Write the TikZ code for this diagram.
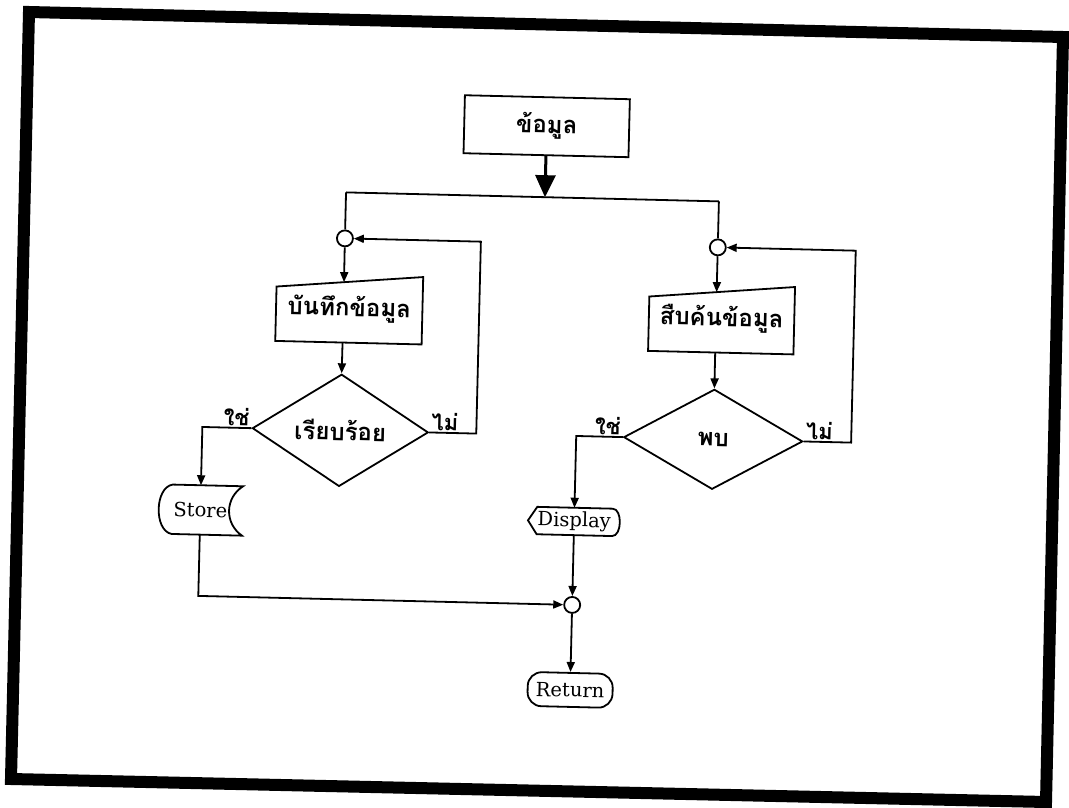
\documentclass[tikz,border=0pt]{standalone}
\usepackage{fontspec}
\newfontfamily\thaifont[Script=Thai]{Loma}
\newfontfamily\engfont{DejaVu Serif}
\usetikzlibrary{arrows.meta,shapes.geometric,calc}
\begin{document}
\begin{tikzpicture}[x=1pt,y=-1pt,
  ln/.style={line width=1.8pt},
  arr/.style={ln,-{Triangle[length=10pt,width=8pt]}},
  th/.style={font=\thaifont\bfseries\fontsize{24pt}{28pt}\selectfont},
  en/.style={font=\engfont\fontsize{19.5pt}{22pt}\selectfont},
  lab/.style={font=\thaifont\bfseries\fontsize{22pt}{26pt}\selectfont, inner sep=2pt},
  box/.style={draw, ln, th, minimum width=165pt, minimum height=58pt},
  hid/.style={inner sep=0pt},
  conn/.style={circle, draw, ln, fill=white, minimum size=16pt, inner sep=0pt},
  dec/.style={diamond, draw, ln, th, inner sep=0pt},
]
\useasboundingbox (0,0) rectangle (1069,808);
\fill[white] (0,0) rectangle (1069,808);
\draw[line width=12pt, line join=miter] (29,12) -- (1063,37) -- (1046,802) -- (11,779) -- cycle;

\begin{scope}[rotate around={-1.38:(535,404)}, transform shape]
% top data box
\node[box] (d0) at (540,126) {ข้อมูล};
\coordinate (sL) at (341,197);
\coordinate (sR) at (714,197);
\coordinate (sM) at (540,197);
\draw[line width=3pt, -{Triangle[length=22pt,width=20pt]}] (d0.south) -- (sM);
\draw[ln] (sL) -- (sR);

% connectors
\node[conn] (c1) at (341,243) {};
\node[conn] (c2) at (714,243) {};
\draw[ln] (sL) -- (c1.north);
\draw[ln] (sR) -- (c2.north);

% manual input boxes
\node[hid, th, minimum width=146pt, minimum height=67pt] (m1) at (347,313.5) {บันทึกข้อมูล};
\coordinate (m1tl) at ($(m1.north west)+(0pt,-13pt)$);
\draw[ln] (m1.south west) -- (m1.south east) -- (m1.north east) -- (m1tl) -- cycle;
\coordinate (m1e) at ($(m1tl)!0.46!(m1.north east)$);
\coordinate (m1b) at ($(m1.south west)!0.46!(m1.south east)$);

\node[hid, th, minimum width=145pt, minimum height=67pt] (m2) at (719.5,314.5) {สืบค้นข้อมูล};
\coordinate (m2tl) at ($(m2.north west)+(0pt,-13pt)$);
\draw[ln] (m2.south west) -- (m2.south east) -- (m2.north east) -- (m2tl) -- cycle;
\coordinate (m2e) at ($(m2tl)!0.462!(m2.north east)$);
\coordinate (m2b) at ($(m2.south west)!0.462!(m2.south east)$);

\draw[arr] (c1.south) -- (m1e);
\draw[arr] (c2.south) -- (m2e);

% decisions
\node[dec, minimum width=176pt, minimum height=100pt] (dia1) at (341,435) {เรียบร้อย};
\node[dec, minimum width=179pt, minimum height=100pt] (dia2) at (714,435) {พบ};
\draw[arr] (m1b) -- (dia1.north);
\draw[arr] (m2b) -- (dia2.north);

\node[lab, anchor=south east] (l1y) at (dia1.west) {ใช่};
\node[lab, anchor=south west] (l1n) at (dia1.east) {ไม่};
\node[lab, anchor=south east] (l2y) at (dia2.west) {ใช่};
\node[lab, anchor=south west] (l2n) at (dia2.east) {ไม่};

% loops back
\coordinate (lp1a) at (477,435);
\coordinate (lp1b) at (477,243);
\draw[arr] (dia1.east) -- (lp1a) -- (lp1b) -- (c1.east);
\coordinate (lp2a) at (852,435);
\coordinate (lp2b) at (852,243);
\draw[arr] (dia2.east) -- (lp2a) -- (lp2b) -- (c2.east);

% store
\node[hid, en, minimum width=84pt, minimum height=49pt] (st) at (203,518) {Store};
\draw[ln] ($(st.north west)+(14pt,0pt)$) -- (st.north east)
  .. controls +(-18pt,-12pt) and +(-18pt,12pt) .. (st.south east)
  -- ($(st.south west)+(14pt,0pt)$)
  .. controls +(-18pt,3pt) and +(-18pt,-3pt) .. ($(st.north west)+(14pt,0pt)$) -- cycle;

% display
\node[hid, en, minimum width=92pt, minimum height=27pt] (dp) at (577,520.5) {Display};
\draw[ln] (dp.west) -- ($(dp.north west)+(9pt,0pt)$) -- ($(dp.north east)+(-8pt,0pt)$)
  .. controls +(10pt,0pt) and +(10pt,0pt) .. ($(dp.south east)+(-8pt,0pt)$)
  -- ($(dp.south west)+(9pt,0pt)$) -- cycle;

\coordinate (y1) at (203,435);
\draw[arr] (dia1.west) -- (y1) -- (st.north);
\coordinate (y2) at (577,435);
\draw[arr] (dia2.west) -- (y2) -- (dp.north);

% merge
\node[conn] (cm) at (577,604) {};
\coordinate (k1) at (203,604);
\draw[arr] (st.south) -- (k1) -- (cm.west);
\draw[arr] (dp.south) -- (cm.north);

% return
\node[draw, ln, en, rounded corners=14pt, minimum width=85pt, minimum height=34pt, inner sep=2pt] (rt) at (577,689) {Return};
\draw[arr] (cm.south) -- (rt.north);
\end{scope}
\end{tikzpicture}
\end{document}
